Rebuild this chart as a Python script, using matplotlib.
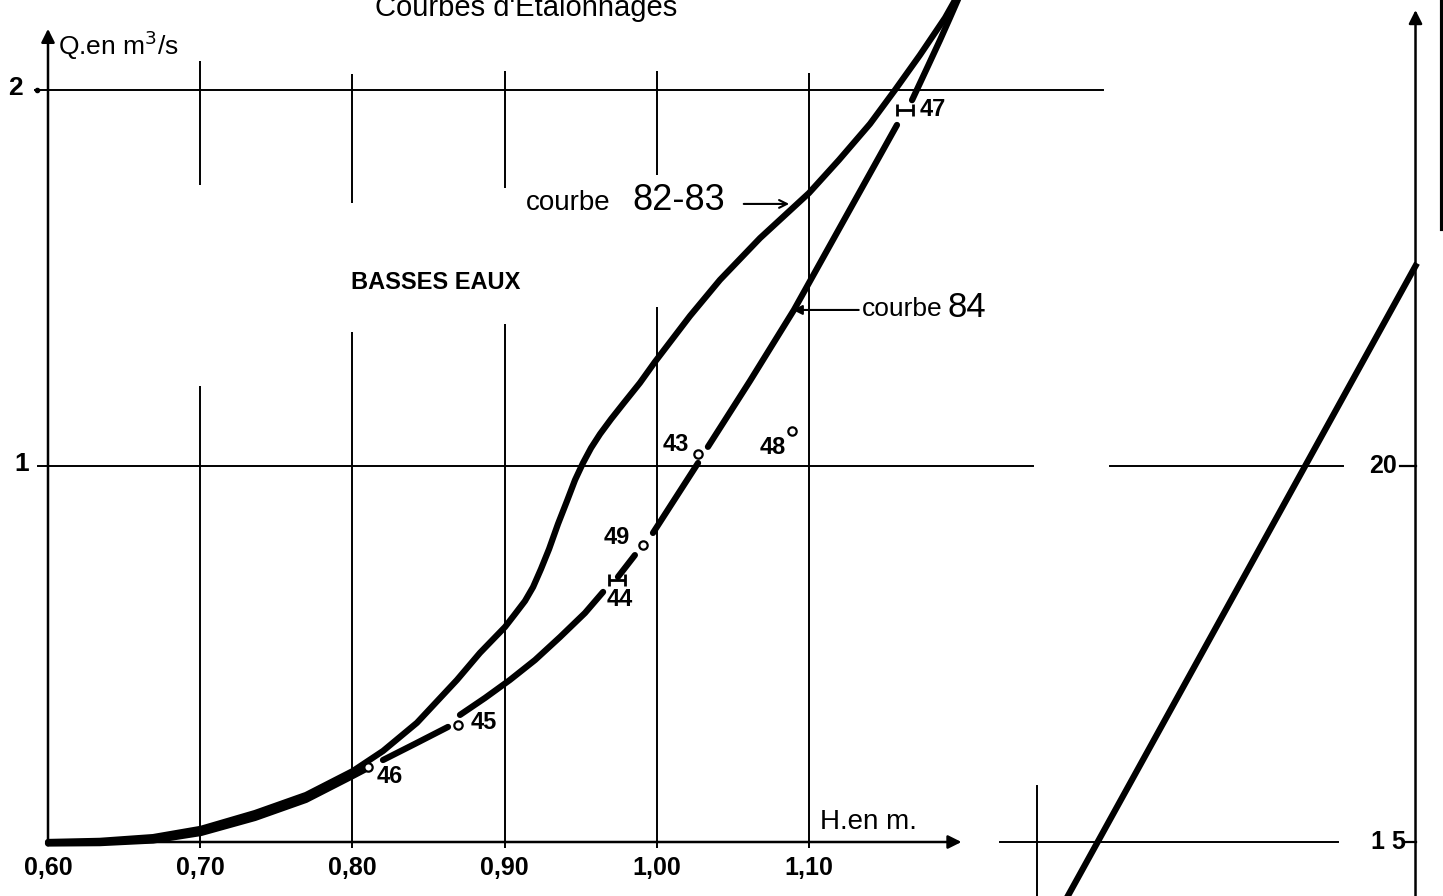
import matplotlib
matplotlib.use('Agg')
import matplotlib.pyplot as plt

plt.rcParams['font.family'] = ['Liberation Sans', 'DejaVu Sans']

# rating curve 82-83 (H in m, Q in m3/s)
h_8283 = [0.600, 0.634, 0.669, 0.7005, 0.736, 0.7695, 0.8004, 0.8201, 0.8424, 0.8687,
          0.8838, 0.9003, 0.9068, 0.9134, 0.9187, 0.9239, 0.9292, 0.9351, 0.9410, 0.9463,
          0.9515, 0.9568, 0.9627, 0.9700, 0.9784, 0.9889, 0.9988, 1.0218, 1.0415, 1.0678,
          1.1000, 1.1197, 1.1401, 1.1565, 1.1729, 1.1894, 1.1979]
q_8283 = [0.000, 0.003, 0.013, 0.035, 0.077, 0.125, 0.189, 0.242, 0.317, 0.431,
          0.503, 0.572, 0.606, 0.641, 0.678, 0.726, 0.779, 0.846, 0.907, 0.963,
          1.008, 1.048, 1.085, 1.125, 1.168, 1.221, 1.277, 1.399, 1.495, 1.606,
          1.726, 1.814, 1.910, 2.000, 2.093, 2.192, 2.253]

# rating curve 84, drawn in pieces between the gaugings
curve84 = [
    ([0.600, 0.634, 0.669, 0.7005, 0.736, 0.7695, 0.8004, 0.8103],
     [-0.004, -0.003, 0.004, 0.024, 0.064, 0.112, 0.176, 0.197]),
    ([0.8201, 0.8411, 0.8628], [0.218, 0.261, 0.306]),
    ([0.8707, 0.8871, 0.9035, 0.9200, 0.9364, 0.9528, 0.9647],
     [0.338, 0.383, 0.431, 0.484, 0.545, 0.609, 0.665]),
    ([0.9745, 0.9856], [0.705, 0.763]),
    ([0.9975, 1.0271], [0.822, 1.008]),
    ([1.0336, 1.0612, 1.0901, 1.1578], [1.051, 1.226, 1.415, 1.907]),
    ([1.1677, 1.1782, 1.1861, 1.1926, 1.1992], [1.973, 2.064, 2.133, 2.192, 2.253]),
]

# gaugings
circ_ids = ['46', '45', '49', '43', '48']
circ_h = [0.8103, 0.8694, 0.9909, 1.0271, 1.0888]
circ_q = [0.1995, 0.311, 0.790, 1.032, 1.093]
bar_ids = ['44', '47']
bar_h = [0.9739, 1.1631]
bar_q = [0.697, 1.947]

# right-hand panel (scale 15 - 20)
h_right = [1.2613, 1.4985]
q_right = [13.96, 22.66]

x_ticks = [0.60, 0.70, 0.80, 0.90, 1.00, 1.10]
x_labels = ['0,60', '0,70', '0,80', '0,90', '1,00', '1,10']

K = 'black'
fig = plt.figure(figsize=(14.43, 8.96), dpi=100)
ax = fig.add_axes([0, 0, 1, 1])
ax.set_xlim(0.56846, 1.51656)
ax.set_ylim(-0.14362, 2.23936)
ax.axis('off')

ax2 = ax.twinx()
ax2.set_ylim(15 + 5 * -0.14362, 15 + 5 * 2.23936)
ax2.axis('off')

# grid, broken where the labels sit
grid_segments = {0.70: [(1.213, -0.016), (2.077, 1.747)],
                 0.80: [(1.356, -0.016), (2.043, 1.700)],
                 0.90: [(1.378, -0.016), (2.051, 1.739)],
                 1.00: [(1.423, -0.016), (2.051, 1.774)],
                 1.10: [(2.045, -0.016)]}
for h, segs in grid_segments.items():
    for top, bot in segs:
        ax.plot([h, h], [bot, top], color=K, lw=1.4, solid_capstyle='butt')
ax.plot([0.5915, 1.2932], [2, 2], color=K, lw=1.4)
ax.plot([0.5934, 1.2472], [1, 1], color=K, lw=1.4)

# axes with arrows
ax.annotate('', xy=(0.600, 2.170), xytext=(0.600, -0.016),
            arrowprops=dict(arrowstyle='-|>', color=K, lw=1.8, mutation_scale=20))
ax.annotate('', xy=(1.2020, 0), xytext=(0.598, 0),
            arrowprops=dict(arrowstyle='-|>', color=K, lw=1.8, mutation_scale=20))

# curves
ax.plot(h_8283, q_8283, color=K, lw=4.5, solid_capstyle='round', solid_joinstyle='round')
for hh, qq in curve84:
    ax.plot(hh, qq, color=K, lw=4.5, solid_capstyle='round', solid_joinstyle='round')

ax.plot(circ_h, circ_q, 'o', ms=6, mfc='white', mec=K, mew=1.6, zorder=5)
ax.errorbar(bar_h, bar_q, xerr=0.005, fmt='none', ecolor=K, elinewidth=2,
            capsize=4, capthick=2, zorder=5)

lab = dict(fontsize=17, fontweight='bold', color=K, ha='center', va='center')
pos = {'46': (0.8247, 0.173), '45': (0.8865, 0.3165), '44': (0.9758, 0.644),
       '49': (0.9739, 0.811), '43': (1.0126, 1.056), '48': (1.0763, 1.048),
       '47': (1.1815, 1.947)}
for k, (x, y) in pos.items():
    ax.text(x, y, k, **lab)

# tick labels
for h, s in zip(x_ticks, x_labels):
    ax.text(h, -0.069, s, fontsize=18, fontweight='bold', ha='center', va='center')
ax.text(0.5783, 2.005, '2', fontsize=19, fontweight='bold', ha='center', va='center')
ax.text(0.5829, 1.005, '1', fontsize=19, fontweight='bold', ha='center', va='center')
ax.plot([0.5925], [2.0], 'o', color=K, ms=3)

ax.text(0.6066, 2.12, 'Q.en m$^3$/s', fontsize=19, ha='left', va='center')
ax.text(1.1072, 0.053, 'H.en m.', fontsize=20, ha='left', va='center')
ax.text(0.9141, 2.218, "Courbes d'Etalonnages", fontsize=21, ha='center', va='center')
ax.text(0.7991, 1.489, 'BASSES EAUX', fontsize=17, fontweight='bold', ha='left', va='center')

ax.text(0.9699, 1.700, 'courbe', fontsize=20, ha='right', va='center')
ax.text(0.9837, 1.706, '82-83', fontsize=26, ha='left', va='center')
ax.annotate('', xy=(1.0888, 1.697), xytext=(1.0553, 1.697),
            arrowprops=dict(arrowstyle='->', color=K, lw=1.5, mutation_scale=14))
ax.text(1.1345, 1.418, 'courbe', fontsize=19, ha='left', va='center')
ax.text(1.1913, 1.422, '84', fontsize=25, ha='left', va='center')
ax.annotate('', xy=(1.0875, 1.415), xytext=(1.1345, 1.415),
            arrowprops=dict(arrowstyle='-|>', color=K, lw=1.5, mutation_scale=14))

# right-hand panel
ax2.plot(h_right, q_right, color=K, lw=4.5)
ax2.annotate('', xy=(1.4985, 26.1), xytext=(1.4985, 13.9),
             arrowprops=dict(arrowstyle='-|>', color=K, lw=1.8, mutation_scale=20))
ax2.plot([1.2978, 1.4509], [20, 20], color=K, lw=1.4)
ax2.plot([1.2255, 1.4476], [15, 15], color=K, lw=1.4)
ax2.plot([1.4880, 1.4985], [20, 20], color=K, lw=1.6)
ax2.plot([1.4900, 1.4985], [15, 15], color=K, lw=1.6)
ax2.plot([1.2500, 1.2500], [13.9, 15.745], color=K, lw=1.4)
ax2.text(1.4771, 20.0, '20', fontsize=18, fontweight='bold', ha='center', va='center')
ax2.text(1.4804, 15.0, '1 5', fontsize=18, fontweight='bold', ha='center', va='center')
ax2.plot([1.5159, 1.5159], [23.15, 26.3], color=K, lw=3)

fig.savefig('out.png', dpi=100)
